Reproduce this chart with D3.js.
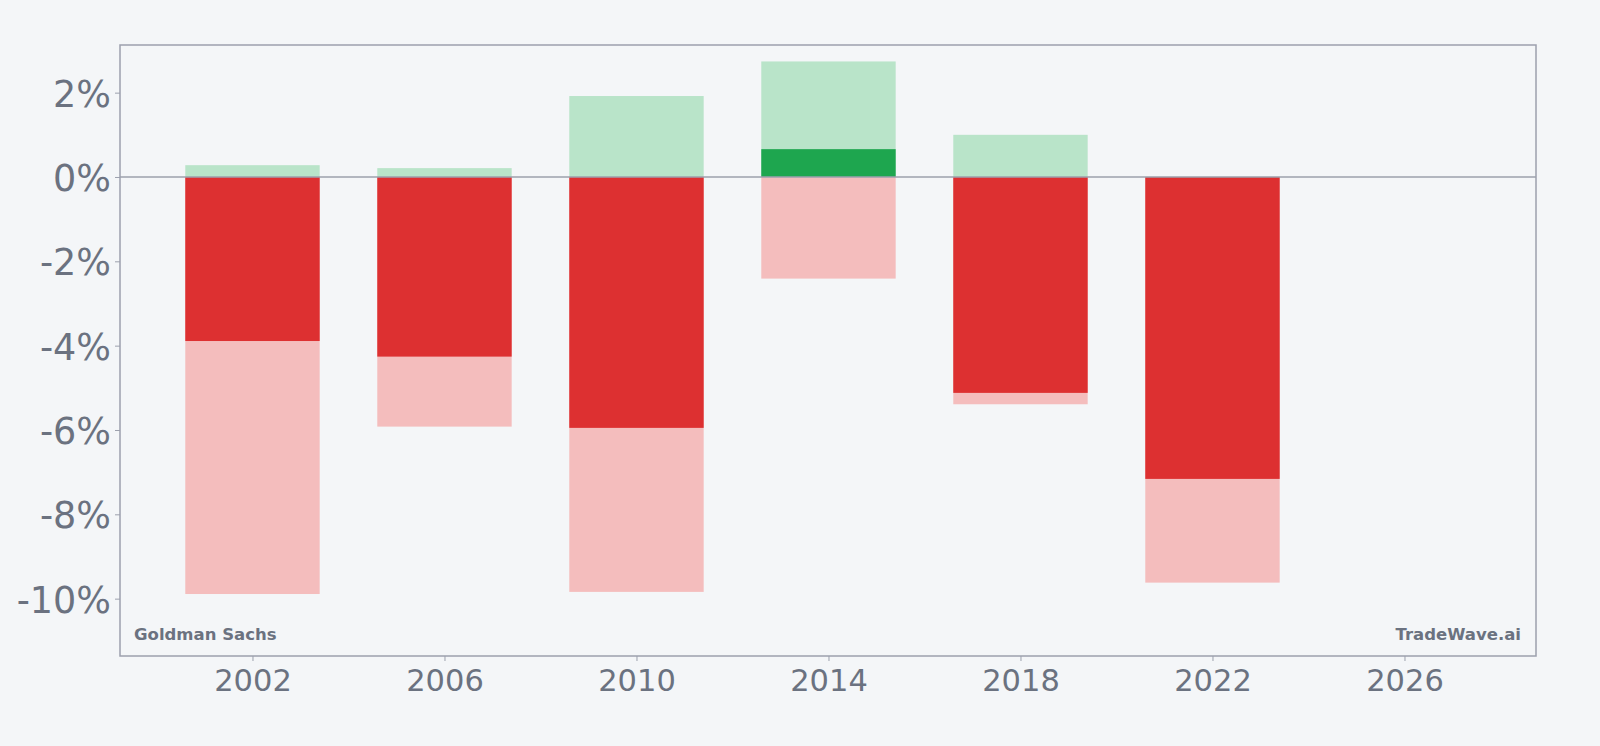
<!DOCTYPE html>
<html>
<head>
<meta charset="utf-8">
<script src="https://cdn.jsdelivr.net/npm/d3@7"></script>
<style>
  body { margin: 0; background: #f4f6f8; }
  svg text { font-family: "DejaVu Sans", sans-serif; fill: #6b7280; }
</style>
</head>
<body>
<script>
//Global variables
const width = 1600;
const height = 746;
const plot = {left: 120, top: 45, right: 1536, bottom: 656};

//Data (percent)
const years = [2002, 2006, 2010, 2014, 2018, 2022];
const highVals = [0.28, 0.21, 1.92, 2.74, 1.00, 0.00];
const midVals = [-3.89, -4.26, -5.95, 0.66, -5.12, -7.16];
const lowVals = [-9.89, -5.92, -9.84, -2.41, -5.39, -9.62];
const xTicks = [2002, 2006, 2010, 2014, 2018, 2022, 2026];
const yTicks = [2, 0, -2, -4, -6, -8, -10];

const rows = years.map((y, i) => ({
    year: y,
    high: highVals[i],
    mid: midVals[i],
    low: lowVals[i]
}));

//SVG element
const svg = d3.select("body")
    .append("svg")
    .attr("width", width)
    .attr("height", height);

//Scales
const x = d3.scaleLinear()
    .domain([1999.24, 2028.74])
    .range([plot.left, plot.right]);
const y = d3.scaleLinear()
    .domain([-11.36, 3.13])
    .range([plot.bottom, plot.top]);
const barW = x(2002 + 2.8) - x(2002);

//Bars: light range bars first, mid value on top
const bars = svg.append("g");
bars.selectAll(".high")
    .data(rows)
    .enter()
    .append("rect")
    .attr("x", d => x(d.year) - barW / 2)
    .attr("width", barW)
    .attr("y", d => y(d.high))
    .attr("height", d => y(0) - y(d.high))
    .attr("fill", "#b9e4c9");

bars.selectAll(".low")
    .data(rows)
    .enter()
    .append("rect")
    .attr("x", d => x(d.year) - barW / 2)
    .attr("width", barW)
    .attr("y", y(0))
    .attr("height", d => y(d.low) - y(0))
    .attr("fill", "#f4bdbd");

bars.selectAll(".mid")
    .data(rows)
    .enter()
    .append("rect")
    .attr("x", d => x(d.year) - barW / 2)
    .attr("width", barW)
    .attr("y", d => y(Math.max(0, d.mid)))
    .attr("height", d => Math.abs(y(d.mid) - y(0)))
    .attr("fill", d => d.mid >= 0 ? "#1ea64f" : "#dd3031");

//Zero line
svg.append("line")
    .attr("x1", plot.left)
    .attr("x2", plot.right)
    .attr("y1", y(0))
    .attr("y2", y(0))
    .attr("stroke", "#9ca0ad")
    .attr("stroke-width", 1.5);

//Axes
const yAxis = svg.append("g")
    .attr("transform", `translate(${plot.left},0)`)
    .call(d3.axisLeft(y).tickValues(yTicks).tickSize(5).tickPadding(4).tickFormat(d => d + "%"));
yAxis.selectAll("text")
    .style("font-size", "36.5px")
    .attr("dy", "0.37em");

const xAxis = svg.append("g")
    .attr("transform", `translate(0,${plot.bottom})`)
    .call(d3.axisBottom(x).tickValues(xTicks).tickSize(5).tickPadding(8).tickFormat(d3.format("d")));
xAxis.selectAll("text").style("font-size", "30.5px");

svg.selectAll(".domain").remove();
svg.selectAll(".tick line").attr("stroke", "#9ca0ad");

//Frame
svg.append("rect")
    .attr("x", plot.left)
    .attr("y", plot.top)
    .attr("width", plot.right - plot.left)
    .attr("height", plot.bottom - plot.top)
    .attr("fill", "none")
    .attr("stroke", "#9ca0ad")
    .attr("stroke-width", 1.5);

//Watermarks
svg.append("text")
    .attr("x", plot.left + 14)
    .attr("y", 640)
    .style("font-size", "16.5px")
    .style("font-weight", "bold")
    .text("Goldman Sachs");

svg.append("text")
    .attr("x", plot.right - 15)
    .attr("y", 640)
    .attr("text-anchor", "end")
    .style("font-size", "16.5px")
    .style("font-weight", "bold")
    .text("TradeWave.ai");
</script>
</body>
</html>
